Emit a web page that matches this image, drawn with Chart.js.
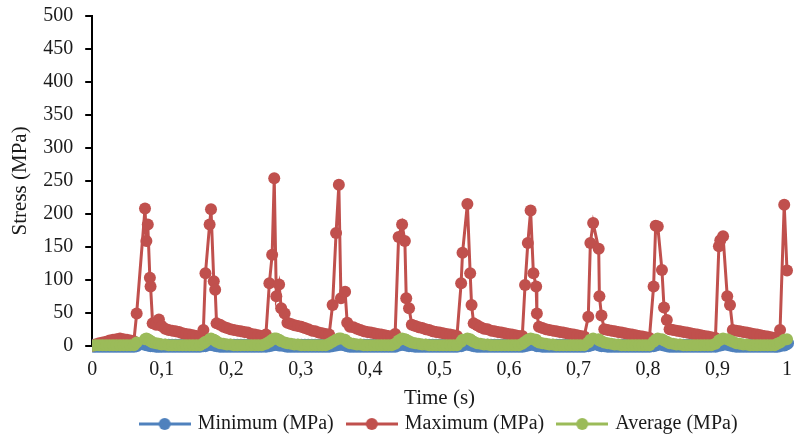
<!DOCTYPE html>
<html>
<head>
<meta charset="utf-8">
<script src="https://cdn.jsdelivr.net/npm/chart.js@4/dist/chart.umd.min.js"></script>
<style>
  html, body { margin: 0; padding: 0; background: #fff; }
</style>
</head>
<body>
<canvas id="chart" width="794" height="436"></canvas>
<script>
// time (s), one row per load cycle
const time = [
  0, 0.005, 0.01, 0.015, 0.02, 0.025, 0.03, 0.035, 0.04, 0.045, 0.05, 0.055, 0.06, 0.064,
  0.076, 0.078, 0.08, 0.083, 0.084, 0.087, 0.092, 0.096, 0.1, 0.105, 0.11, 0.115, 0.12, 0.125, 0.13, 0.135, 0.14, 0.145, 0.15, 0.155, 0.16,
  0.163, 0.169, 0.171, 0.175, 0.177, 0.179, 0.184, 0.189, 0.194, 0.199, 0.204, 0.209, 0.214, 0.219, 0.224, 0.229, 0.234, 0.239, 0.244, 0.25,
  0.255, 0.259, 0.262, 0.265, 0.269, 0.272, 0.277, 0.281, 0.286, 0.291, 0.296, 0.301, 0.306, 0.311, 0.316, 0.321, 0.326, 0.331, 0.336, 0.341,
  0.346, 0.351, 0.355, 0.358, 0.364, 0.367, 0.371, 0.376, 0.381, 0.386, 0.391, 0.396, 0.401, 0.406, 0.411, 0.416, 0.421, 0.426, 0.431, 0.436,
  0.441, 0.446, 0.45, 0.452, 0.456, 0.46, 0.465, 0.47, 0.475, 0.48, 0.485, 0.49, 0.495, 0.5, 0.505, 0.51, 0.515, 0.52, 0.525,
  0.531, 0.533, 0.54, 0.544, 0.546, 0.549, 0.554, 0.559, 0.564, 0.569, 0.574, 0.579, 0.584, 0.589, 0.594, 0.599, 0.604, 0.609, 0.614, 0.619,
  0.623, 0.627, 0.631, 0.635, 0.639, 0.64, 0.643, 0.648, 0.653, 0.658, 0.663, 0.668, 0.673, 0.678, 0.683, 0.688, 0.693, 0.698, 0.703, 0.708,
  0.714, 0.717, 0.721, 0.729, 0.73, 0.733, 0.737, 0.742, 0.747, 0.752, 0.757, 0.762, 0.767, 0.772, 0.777, 0.782, 0.787, 0.792, 0.797, 0.802,
  0.808, 0.811, 0.814, 0.82, 0.823, 0.827, 0.831, 0.836, 0.841, 0.846, 0.851, 0.856, 0.861, 0.866, 0.871, 0.876, 0.881, 0.886, 0.891, 0.897,
  0.902, 0.904, 0.908, 0.914, 0.918, 0.922, 0.927, 0.932, 0.937, 0.942, 0.947, 0.952, 0.957, 0.962, 0.967, 0.972, 0.977, 0.982, 0.986,
  0.99, 0.996, 1
];

const minimum = [
  0, 0, 0, 0, 0, 0, 0, 0, 0, 0, 0, 0, 0, 1,
  3, 3, 2, 2, 1, 1, 0, 0, 0, 0, 0, 0, 0, 0, 0, 0, 0, 0, 0, 0, 1,
  1, 3, 3, 2, 2, 1, 0, 0, 0, 0, 0, 0, 0, 0, 0, 0, 0, 0, 0, 0,
  1, 2, 3, 3, 2, 2, 1, 0, 0, 0, 0, 0, 0, 0, 0, 0, 0, 0, 0, 0,
  1, 2, 3, 3, 2, 1, 0, 0, 0, 0, 0, 0, 0, 0, 0, 0, 0, 0, 0, 0,
  2, 3, 3, 2, 1, 1, 0, 0, 0, 0, 0, 0, 0, 0, 0, 0, 0, 0, 0,
  1, 2, 3, 3, 2, 1, 0, 0, 0, 0, 0, 0, 0, 0, 0, 0, 0, 0, 0, 0,
  1, 2, 3, 3, 2, 1, 1, 0, 0, 0, 0, 0, 0, 0, 0, 0, 0, 0, 0, 0,
  1, 2, 3, 3, 2, 1, 1, 0, 0, 0, 0, 0, 0, 0, 0, 0, 0, 0, 0, 0,
  1, 2, 3, 3, 2, 1, 0, 0, 0, 0, 0, 0, 0, 0, 0, 0, 0, 0, 0, 0,
  2, 2, 3, 3, 2, 1, 0, 0, 0, 0, 0, 0, 0, 0, 0, 0, 0, 0, 0,
  1, 2, 4
];

const maximum = [
  0, 2, 4, 5, 6, 8, 9, 10, 11, 10, 9, 8, 7, 49,
  208, 159, 184, 103, 90, 34, 32, 40, 30, 26, 24, 23, 22, 21, 19, 18, 17, 16, 15, 14, 24,
  110, 184, 207, 98, 85, 34, 32, 29, 27, 25, 24, 23, 22, 21, 20, 18, 17, 16, 15, 17,
  95, 138, 254, 75, 93, 57, 49, 35, 33, 31, 30, 29, 27, 25, 23, 22, 20, 19, 18, 17,
  62, 171, 244, 72, 82, 35, 29, 28, 26, 24, 22, 21, 20, 19, 18, 17, 16, 15, 14, 18,
  165, 184, 159, 72, 57, 32, 30, 28, 27, 25, 24, 22, 21, 20, 19, 18, 17, 16, 15,
  95, 141, 215, 110, 62, 34, 31, 28, 26, 25, 23, 22, 21, 20, 19, 18, 17, 16, 15, 15,
  92, 156, 205, 110, 90, 49, 29, 27, 25, 24, 23, 22, 21, 20, 19, 18, 17, 16, 15, 14,
  44, 156, 186, 147, 75, 46, 25, 24, 23, 22, 21, 20, 19, 18, 17, 16, 15, 14, 13, 12,
  90, 182, 181, 115, 58, 39, 25, 24, 23, 22, 21, 20, 19, 18, 17, 16, 15, 14, 13, 12,
  151, 160, 166, 75, 62, 24, 23, 22, 21, 20, 19, 18, 17, 16, 15, 14, 13, 12, 12,
  24, 214, 114
];

const average = [
  0, 1, 1, 1, 1, 1, 1, 1, 1, 1, 1, 1, 1, 5,
  10, 11, 10, 8, 7, 5, 4, 3, 2, 2, 1, 1, 1, 1, 1, 1, 1, 1, 1, 1, 4,
  6, 10, 11, 9, 8, 6, 4, 3, 2, 2, 1, 1, 1, 1, 1, 1, 1, 1, 1, 3,
  6, 9, 11, 11, 9, 7, 5, 4, 3, 2, 2, 1, 1, 1, 1, 1, 1, 1, 1, 3,
  6, 9, 11, 11, 9, 6, 4, 3, 2, 2, 1, 1, 1, 1, 1, 1, 1, 1, 1, 3,
  8, 11, 10, 9, 7, 5, 4, 3, 2, 2, 1, 1, 1, 1, 1, 1, 1, 1, 1,
  6, 9, 11, 10, 8, 6, 4, 3, 2, 2, 1, 1, 1, 1, 1, 1, 1, 1, 1, 3,
  6, 9, 11, 10, 9, 7, 5, 4, 3, 2, 2, 1, 1, 1, 1, 1, 1, 1, 1, 1,
  5, 9, 11, 10, 8, 7, 5, 4, 3, 2, 2, 1, 1, 1, 1, 1, 1, 1, 1, 1,
  6, 9, 11, 10, 8, 6, 4, 3, 2, 2, 1, 1, 1, 1, 1, 1, 1, 1, 1, 3,
  8, 9, 11, 10, 8, 6, 4, 3, 2, 2, 1, 1, 1, 1, 1, 1, 1, 1, 3,
  5, 9, 10
];

const xTicks = [0, 0.1, 0.2, 0.3, 0.4, 0.5, 0.6, 0.7, 0.8, 0.9, 1];
const seriesNames = ["Minimum (MPa)", "Maximum (MPa)", "Average (MPa)"];
const seriesColors = ["#4f81bd", "#c0504d", "#9bbb59"];

const serif = "'Liberation Serif', 'Times New Roman', serif";
const ink = "#1a1a1a";

function points(values) {
  return time.map((t, i) => ({ x: t, y: values[i] }));
}

// line + dot, like the Excel legend keys
function legendKey(color) {
  const c = document.createElement("canvas");
  c.width = 52;
  c.height = 14;
  const g = c.getContext("2d");
  g.strokeStyle = color;
  g.lineWidth = 3;
  g.beginPath();
  g.moveTo(0, 7);
  g.lineTo(52, 7);
  g.stroke();
  g.fillStyle = color;
  g.beginPath();
  g.arc(26, 7, 6, 0, Math.PI * 2);
  g.fill();
  return c;
}
const keys = seriesColors.map(legendKey);

function series(i, values, radius, order) {
  return {
    label: seriesNames[i],
    data: points(values),
    showLine: true,
    borderColor: seriesColors[i],
    backgroundColor: seriesColors[i],
    borderWidth: 3,
    pointRadius: radius,
    pointBorderWidth: 0,
    pointHoverRadius: radius,
    order: order,
    clip: { left: 0, top: 10, right: 10, bottom: 10 },
  };
}

new Chart(document.getElementById("chart"), {
  type: "scatter",
  data: {
    datasets: [
      series(0, minimum, 7, 3),
      series(1, maximum, 6, 2),
      series(2, average, 6, 1),
    ],
  },
  options: {
    responsive: false,
    animation: false,
    layout: { padding: { top: 16, left: 0, right: 2, bottom: -8 } },
    scales: {
      x: {
        type: "linear",
        min: 0,
        max: 1,
        afterBuildTicks: (axis) => {
          axis.ticks = xTicks.map((v) => ({ value: v }));
        },
        ticks: {
          padding: 0,
          color: ink,
          font: { family: serif, size: 20 },
          maxRotation: 0,
          callback: (v) => String(Number(v.toFixed(1))).replace(".", ","),
        },
        // invisible tick marks only keep the labels off the axis
        grid: {
          display: true,
          drawOnChartArea: false,
          drawTicks: true,
          tickLength: 12,
          color: "rgba(0,0,0,0)",
        },
        border: { display: false },
        title: {
          display: true,
          text: "Time (s)",
          color: ink,
          font: { family: serif, size: 21 },
          padding: { top: 4, bottom: -12 },
        },
      },
      y: {
        min: 0,
        max: 500,
        ticks: {
          stepSize: 50,
          padding: 12,
          color: ink,
          font: { family: serif, size: 20, lineHeight: 0.4 },
        },
        grid: {
          display: true,
          drawOnChartArea: false,
          drawTicks: true,
          tickLength: 7,
          tickWidth: 2,
          tickColor: "#000",
          color: "#000",
          lineWidth: 2,
        },
        border: { display: true, color: "#000", width: 2 },
        title: {
          display: true,
          text: "Stress (MPa)",
          color: ink,
          font: { family: serif, size: 21 },
          padding: { top: 8, bottom: -2 },
        },
      },
    },
    plugins: {
      legend: {
        position: "bottom",
        fullSize: false,
        labels: {
          usePointStyle: true,
          pointStyleWidth: 46,
          padding: 15,
          color: ink,
          font: { family: serif, size: 20 },
          generateLabels: (chart) =>
            Chart.defaults.plugins.legend.labels
              .generateLabels(chart)
              .sort((a, b) => a.datasetIndex - b.datasetIndex)
              .map((item) => ({ ...item, pointStyle: keys[item.datasetIndex] })),
        },
      },
      tooltip: { enabled: false },
    },
  },
});
</script>
</body>
</html>
